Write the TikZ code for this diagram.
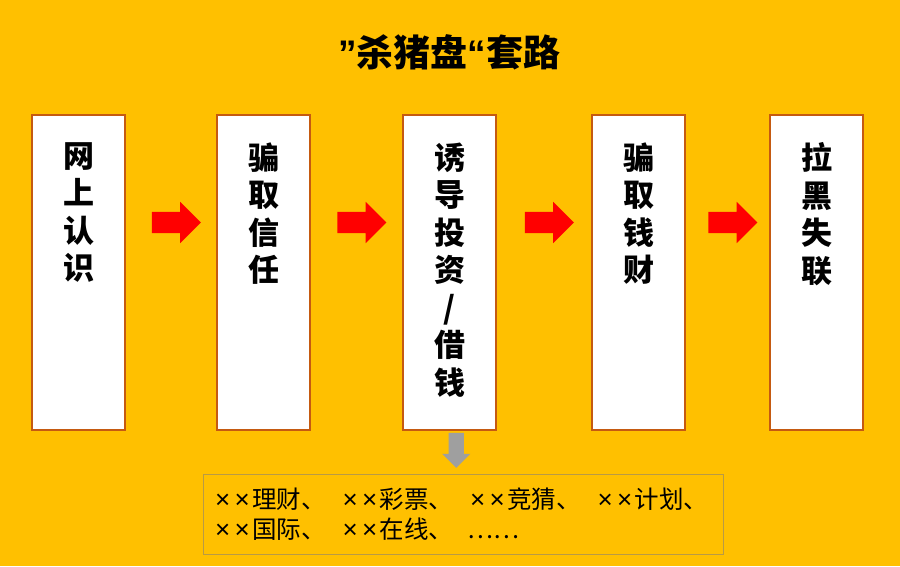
\documentclass[tikz,border=0pt]{standalone}
\usepackage{fontspec}
\setmainfont{Noto Sans CJK SC}
\newfontfamily\latinfont{Liberation Sans}
\usetikzlibrary{shapes.arrows, calc, positioning}
\definecolor{gold}{HTML}{FFC000}
\definecolor{boxline}{HTML}{C55A11}
\definecolor{noteline}{HTML}{B89A45}
% one pair of x marks, as in the examples
\newcommand{\xmarks}{\makebox[19.5pt]{\latinfont\fontsize{26}{26}\selectfont ×}\makebox[19.5pt]{\latinfont\fontsize{26}{26}\selectfont ×}}
\tikzset{
  stepbox/.style={
    rectangle, draw=boxline, line width=1.2pt, fill=white,
    minimum width=93pt, minimum height=315pt
  },
  steptext/.style={
    anchor=north, inner sep=0pt, align=center,
    font=\fontsize{31}{37.5}\selectfont\bfseries
  },
  redarrow/.style={
    single arrow, fill=red, draw=none, inner sep=10.5pt,
    minimum height=49pt, single arrow head extend=10pt
  },
  grayarrow/.style={
    single arrow, fill=gray!75, draw=none, inner sep=7.5pt, shape border rotate=270,
    minimum height=35pt, single arrow head extend=6.5pt
  },
  notebox/.style={
    rectangle, draw=noteline, line width=0.8pt, text width=500pt, align=left,
    inner xsep=10pt, minimum height=80pt,
    font=\fontsize{24.5}{30.5}\selectfont
  }
}

\begin{document}
\begin{tikzpicture}[x=1pt, y=-1pt]
  % Background
  \fill[gold] (0,0) rectangle (900,566);

  % Title
  \node[font=\fontsize{37}{42}\selectfont\bfseries] (title) at (449,52.5)
    {{\latinfont ”}杀猪盘{\latinfont “}套路};

  % Steps
  \node[stepbox] (b1) at (78.5,272.5) {};
  \node[stepbox] (b2) at (263.5,272.5) {};
  \node[stepbox] (b3) at (449.5,272.5) {};
  \node[stepbox] (b4) at (638.5,272.5) {};
  \node[stepbox] (b5) at (816.5,272.5) {};

  \node[steptext] (t1) at ([yshift=-28pt]b1.north) {网\\上\\认\\识};
  \node[steptext] (t2) at ([yshift=-28pt]b2.north) {骗\\取\\信\\任};
  \node[steptext] (t3) at ([yshift=-28pt]b3.north) {诱\\导\\投\\资\\/\\借\\钱};
  \node[steptext] (t4) at ([yshift=-28pt]b4.north) {骗\\取\\钱\\财};
  \node[steptext] (t5) at ([yshift=-28pt]b5.north) {拉\\黑\\失\\联};

  % Red arrows between steps
  \node[redarrow, yshift=50pt] (a12) at ($(b1.east)!0.5!(b2.west)$) {};
  \node[redarrow, yshift=50pt] (a23) at ($(b2.east)!0.5!(b3.west)$) {};
  \node[redarrow, yshift=50pt] (a34) at ($(b3.east)!0.5!(b4.west)$) {};
  \node[redarrow, yshift=50pt] (a45) at ($(b4.east)!0.5!(b5.west)$) {};

  % Examples below step 3
  \node[notebox] (note) at (463,514)
    {\xmarks 理财、\kern15pt\xmarks 彩票、\kern15pt\xmarks 竞猜、\kern15pt\xmarks 计划、\\
     \xmarks 国际、\kern15pt\xmarks 在线、\kern15pt……};
  \node[grayarrow, yshift=5.5pt] (down) at ($(b3.south)!0.5!(note.north)$) {};
\end{tikzpicture}
\end{document}
